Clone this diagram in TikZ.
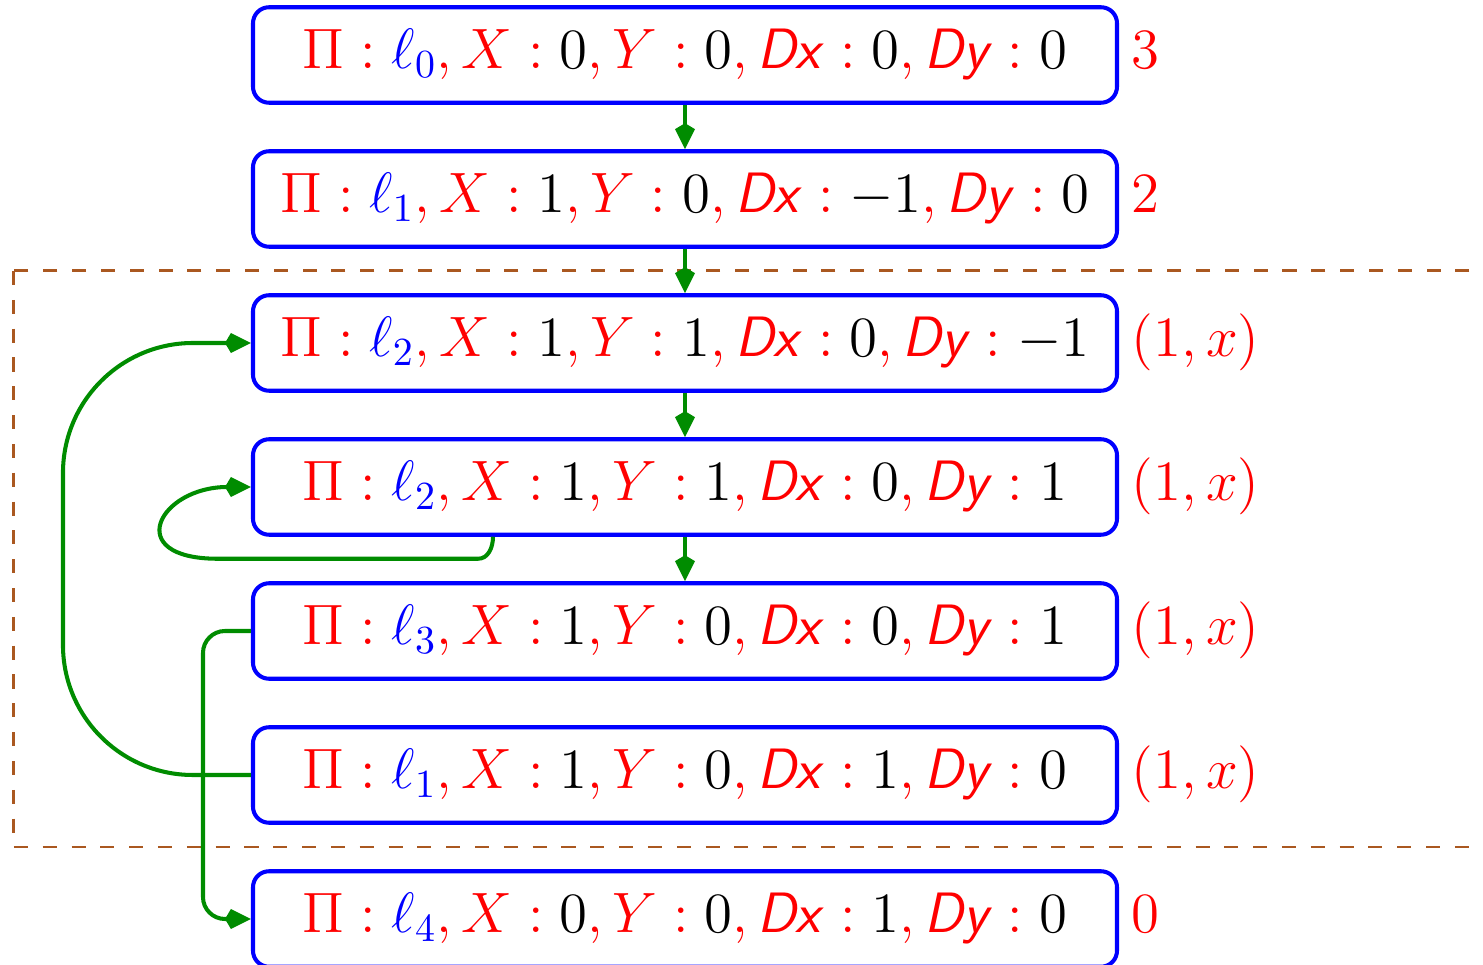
\RequirePackage{fix-cm}
\documentclass[tikz,border=0pt]{standalone}
\usetikzlibrary{arrows.meta}
\definecolor{flowgreen}{RGB}{0,140,0}
\definecolor{zonebrown}{RGB}{170,88,32}
\newcommand{\vl}[1]{\textcolor{black}{#1}}
\newcommand{\lc}[1]{\textcolor{blue}{\ell_{#1}}}
\newcommand{\sv}[1]{\textsf{\textit{#1}}}
\newcommand{\cfg}[5]{$\Pi:\lc{#1},X:\vl{#2},Y:\vl{#3},\sv{Dx}:\vl{#4},\sv{Dy}:\vl{#5}$}
\begin{document}
\begin{tikzpicture}[font=\fontsize{16.2}{20}\selectfont,
  statebox/.style={draw=blue, line width=1.15pt, rounded corners=0.16cm,
    minimum width=8.64cm, minimum height=0.955cm, inner sep=0pt, text=red},
  flow/.style={draw=flowgreen, line width=1.15pt,
    -{Kite[length=7.4pt,width=5.7pt,inset=1.7pt]}},
  rank/.style={text=red, anchor=base west, inner sep=0pt}]
  \useasboundingbox (0,0) rectangle (14.83,-9.65);
  % region of the loop
  \draw[zonebrown, line width=0.85pt, dash pattern=on 4pt off 4.2pt] (0.135,-2.71) rectangle (15.2,-8.47);
  % states
  \node[statebox] (s0) at (6.85,-0.55) {\cfg{0}{0}{0}{0}{0}};
  \node[statebox] (s1) at (6.85,-1.99) {\cfg{1}{1}{0}{-1}{0}};
  \node[statebox] (s2) at (6.85,-3.43) {\cfg{2}{1}{1}{0}{-1}};
  \node[statebox] (s3) at (6.85,-4.87) {\cfg{2}{1}{1}{0}{1}};
  \node[statebox] (s4) at (6.85,-6.31) {\cfg{3}{1}{0}{0}{1}};
  \node[statebox] (s5) at (6.85,-7.75) {\cfg{1}{1}{0}{1}{0}};
  \node[statebox] (s6) at (6.85,-9.19) {\cfg{4}{0}{0}{1}{0}};
  % ranks
  \node[rank] (r0) at ([xshift=0.12cm]s0.base east) {$3$};
  \node[rank] (r1) at ([xshift=0.12cm]s1.base east) {$2$};
  \node[rank] (r2) at ([xshift=0.12cm]s2.base east) {$(1,x)$};
  \node[rank] (r3) at ([xshift=0.12cm]s3.base east) {$(1,x)$};
  \node[rank] (r4) at ([xshift=0.12cm]s4.base east) {$(1,x)$};
  \node[rank] (r5) at ([xshift=0.12cm]s5.base east) {$(1,x)$};
  \node[rank] (r6) at ([xshift=0.12cm]s6.base east) {$0$};
  % transitions
  \draw[flow] (s0) -- (s1);
  \draw[flow] (s1) -- (s2);
  \draw[flow] (s2) -- (s3);
  \draw[flow] (s3) -- (s4);
  \draw[flow] ([xshift=-1.92cm]s3.south) to[out=-90,in=0] ++(-0.15,-0.22) -- ++(-2.6,0)
    .. controls +(-0.97,0) and +(-0.92,0) .. (s3.west);
  \draw[flow, rounded corners=1.3cm] (s5.west) -| ([xshift=-1.88cm]s2.west) -- (s2.west);
  \draw[flow, rounded corners=0.22cm] (s4.west) -| ([xshift=-0.48cm]s6.west) -- (s6.west);
\end{tikzpicture}
\end{document}
